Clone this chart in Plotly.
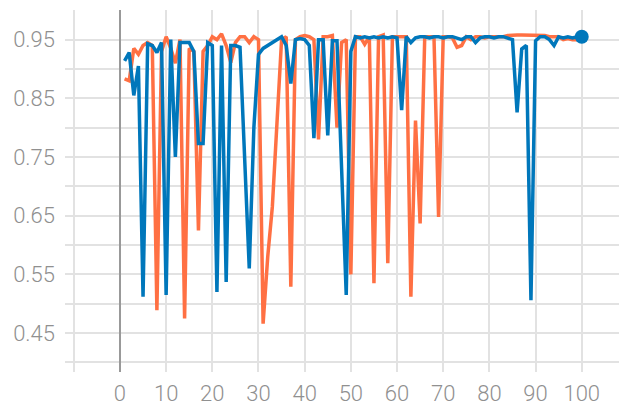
import plotly.graph_objects as go

steps = list(range(1, 101))

blue_vals = [
    0.914, 0.928, 0.855, 0.905, 0.512, 0.943, 0.940, 0.928, 0.945, 0.515,
    0.950, 0.750, 0.945, 0.945, 0.945, 0.930, 0.773, 0.773, 0.945, 0.940,
    0.520, 0.940, 0.537, 0.940, 0.940, 0.937, 0.750, 0.560, 0.800, 0.925,
    0.935, 0.940, 0.945, 0.950, 0.955, 0.940, 0.875, 0.950, 0.952, 0.950,
    0.940, 0.782, 0.950, 0.950, 0.787, 0.948, 0.948, 0.730, 0.515, 0.930,
    0.955, 0.953, 0.955, 0.953, 0.955, 0.953, 0.955, 0.953, 0.955, 0.953,
    0.830, 0.955, 0.945, 0.953, 0.955, 0.955, 0.953, 0.955, 0.955, 0.953,
    0.955, 0.955, 0.953, 0.950, 0.955, 0.955, 0.945, 0.953, 0.955, 0.955,
    0.953, 0.955, 0.955, 0.953, 0.950, 0.826, 0.934, 0.940, 0.506, 0.948,
    0.955, 0.955, 0.950, 0.940, 0.955, 0.953, 0.955, 0.953, 0.955, 0.955,
]

orange_vals = [
    0.883, 0.880, 0.935, 0.925, 0.940, 0.945, 0.940, 0.489, 0.930, 0.955,
    0.935, 0.910, 0.950, 0.475, 0.935, 0.930, 0.625, 0.930, 0.940, 0.955,
    0.950, 0.960, 0.940, 0.911, 0.945, 0.955, 0.955, 0.945, 0.955, 0.950,
    0.466, 0.580, 0.665, 0.810, 0.950, 0.955, 0.529, 0.950, 0.955, 0.957,
    0.955, 0.950, 0.780, 0.955, 0.955, 0.957, 0.800, 0.945, 0.950, 0.550,
    0.955, 0.955, 0.942, 0.955, 0.535, 0.955, 0.958, 0.569, 0.955, 0.955,
    0.955, 0.955, 0.512, 0.812, 0.637, 0.955, 0.955, 0.955, 0.648, 0.955,
    0.955, 0.953, 0.937, 0.940, 0.955, 0.950, 0.955, 0.955, 0.953, 0.955,
    0.955, 0.955, 0.955, 0.957, 0.958, 0.958, 0.958, 0.958, 0.958, 0.957,
    0.958, 0.957, 0.955, 0.955, 0.955, 0.950, 0.952, 0.950, 0.950, 0.952,
]

y_label_vals = [0.45, 0.55, 0.65, 0.75, 0.85, 0.95]
y_label_text = ["0.45", "0.55", "0.65", "0.75", "0.85", "0.95"]
y_minor_vals = [0.40, 0.50, 0.60, 0.70, 0.80, 0.90, 1.00]
x_tick_vals = [0, 10, 20, 30, 40, 50, 60, 70, 80, 90, 100]

ORANGE = "#ff7043"
BLUE = "#0077bb"

fig = go.Figure()
fig.add_trace(go.Scatter(x=steps, y=orange_vals, mode="lines",
                         line=dict(color=ORANGE, width=3.5), showlegend=False))
fig.add_trace(go.Scatter(x=steps, y=blue_vals, mode="lines",
                         line=dict(color=BLUE, width=3.5), showlegend=False))
fig.add_trace(go.Scatter(x=[steps[-1]], y=[blue_vals[-1]], mode="markers",
                         marker=dict(color=BLUE, size=14), showlegend=False))

grid_col = "#e2e2e2"
fig.update_layout(
    width=619, height=397,
    margin=dict(l=57, r=0, t=2, b=33),
    paper_bgcolor="white", plot_bgcolor="white",
    font=dict(family="Roboto", size=22, color="#909090", weight=300),
    xaxis=dict(
        range=[-11.9, 109.8], automargin=False,
        tickvals=x_tick_vals,
        showgrid=True, gridcolor=grid_col, gridwidth=1.5,
        minor=dict(tickvals=[-10], showgrid=True, gridcolor=grid_col, gridwidth=1.5),
        zeroline=True, zerolinecolor="#999999", zerolinewidth=2,
        showline=False, ticks="", ticklabelstandoff=6,
    ),
    yaxis=dict(
        range=[0.3837, 1.0005], automargin=False,
        tickvals=y_label_vals, ticktext=y_label_text,
        showgrid=True, gridcolor=grid_col, gridwidth=1.5,
        minor=dict(tickvals=y_minor_vals, showgrid=True, gridcolor=grid_col, gridwidth=1.5),
        zeroline=False, showline=False, ticks="", ticklabelstandoff=9,
    ),
)

fig.write_html("out.html")
